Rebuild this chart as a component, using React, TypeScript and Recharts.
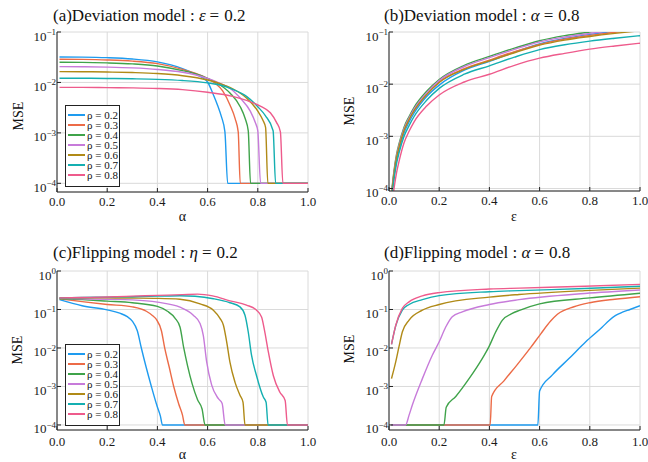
import React from 'react';
import { LineChart, Line, XAxis, YAxis, CartesianGrid, Legend } from 'recharts';

const FONT = "'Liberation Serif', 'Times New Roman', serif";

const RHO_LABELS = ['ρ = 0.2', 'ρ = 0.3', 'ρ = 0.4', 'ρ = 0.5', 'ρ = 0.6', 'ρ = 0.7', 'ρ = 0.8'];
const RHO_COLORS = ['#1e9bef', '#ec6b47', '#3fa34a', '#c77bda', '#b08a17', '#14afb1', '#ee5b8c'];

const X_TICKS = [0, 0.2, 0.4, 0.6, 0.8, 1];
const Y_TICKS_DEV = [1e-4, 1e-3, 1e-2, 1e-1];
const Y_TICKS_FLIP = [1e-4, 1e-3, 1e-2, 1e-1, 1];

// (a) deviation model, eps = 0.2 : [alpha, MSE]
const DEV_A_R2 = [[0.01, 0.032], [0.1, 0.0318], [0.2, 0.031], [0.3, 0.0292], [0.4, 0.0255], [0.5, 0.0188], [0.55, 0.0148], [0.58, 0.0124], [0.6, 0.0102], [0.62, 0.0062], [0.64, 0.0035], [0.655, 0.0021], [0.669, 0.00105], [0.68, 0.0001], [1, 0.0001]];
const DEV_A_R3 = [[0.01, 0.0288], [0.1, 0.0286], [0.2, 0.0279], [0.3, 0.0265], [0.4, 0.0236], [0.5, 0.0182], [0.55, 0.0152], [0.6, 0.0119], [0.63, 0.0097], [0.66, 0.0068], [0.69, 0.0035], [0.71, 0.0019], [0.722, 0.00105], [0.73, 0.0001], [1, 0.0001]];
const DEV_A_R4 = [[0.01, 0.0251], [0.1, 0.025], [0.2, 0.0244], [0.3, 0.0233], [0.4, 0.0212], [0.5, 0.0172], [0.55, 0.0149], [0.6, 0.0121], [0.65, 0.0089], [0.69, 0.0061], [0.73, 0.0033], [0.75, 0.0019], [0.762, 0.0011], [0.771, 0.0001], [1, 0.0001]];
const DEV_A_R5 = [[0.01, 0.0206], [0.1, 0.0205], [0.2, 0.0201], [0.3, 0.0194], [0.4, 0.0181], [0.5, 0.0159], [0.55, 0.0142], [0.6, 0.012], [0.65, 0.0096], [0.69, 0.0076], [0.73, 0.0049], [0.77, 0.0027], [0.79, 0.0016], [0.8, 0.0011], [0.811, 0.0001], [1, 0.0001]];
const DEV_A_R6 = [[0.01, 0.0164], [0.1, 0.0163], [0.2, 0.0161], [0.3, 0.0157], [0.4, 0.015], [0.5, 0.0136], [0.6, 0.0112], [0.65, 0.0095], [0.7, 0.0075], [0.755, 0.0049], [0.8, 0.0027], [0.82, 0.0018], [0.831, 0.00128], [0.84, 0.0001], [1, 0.0001]];
const DEV_A_R7 = [[0.01, 0.0121], [0.1, 0.0121], [0.2, 0.012], [0.3, 0.0118], [0.4, 0.0115], [0.5, 0.0109], [0.6, 0.0098], [0.65, 0.0089], [0.7, 0.0073], [0.755, 0.0053], [0.8, 0.0033], [0.83, 0.0022], [0.861, 0.0011], [0.871, 0.0001], [1, 0.0001]];
const DEV_A_R8 = [[0.01, 0.008], [0.1, 0.008], [0.2, 0.0079], [0.3, 0.0078], [0.4, 0.0076], [0.5, 0.0072], [0.6, 0.0064], [0.7, 0.0053], [0.755, 0.0044], [0.81, 0.0034], [0.85, 0.0025], [0.875, 0.0016], [0.89, 0.00105], [0.9, 0.0001], [1, 0.0001]];

// (b) deviation model, alpha = 0.8 : MSE over eps
const DEV_EPS = [0.012, 0.02, 0.03, 0.04, 0.06, 0.08, 0.1, 0.15, 0.2, 0.3, 0.4, 0.5, 0.6, 0.7, 0.8, 0.9, 1.0];
const DEV_B_R2 = [0.00008, 0.00017, 0.00035, 0.00056, 0.00117, 0.00188, 0.0028, 0.0058, 0.0096, 0.0185, 0.0275, 0.041, 0.059, 0.075, 0.09, 0.104, 0.118];
const DEV_B_R3 = [0.000092, 0.000195, 0.0004, 0.00064, 0.00133, 0.00215, 0.0032, 0.0064, 0.011, 0.0198, 0.029, 0.042, 0.058, 0.073, 0.086, 0.099, 0.112];
const DEV_B_R4 = [0.0001, 0.00022, 0.00045, 0.00072, 0.0015, 0.0024, 0.0036, 0.0073, 0.0123, 0.023, 0.034, 0.049, 0.068, 0.085, 0.1, 0.115, 0.13];
const DEV_B_R5 = [0.000095, 0.000205, 0.00042, 0.00067, 0.0014, 0.00225, 0.00335, 0.0068, 0.0117, 0.0218, 0.0322, 0.0465, 0.0645, 0.08, 0.094, 0.108, 0.121];
const DEV_B_R6 = [0.00009, 0.00019, 0.00039, 0.00062, 0.0013, 0.0021, 0.0031, 0.0063, 0.0108, 0.0192, 0.028, 0.04, 0.056, 0.07, 0.082, 0.094, 0.106];
const DEV_B_R7 = [0.00007, 0.00015, 0.0003, 0.00048, 0.001, 0.0016, 0.0024, 0.0049, 0.0083, 0.0155, 0.0225, 0.033, 0.046, 0.057, 0.067, 0.076, 0.085];
const DEV_B_R8 = [0.00005, 0.0001, 0.0002, 0.00033, 0.00075, 0.00125, 0.0019, 0.0038, 0.0062, 0.011, 0.0155, 0.023, 0.0315, 0.039, 0.047, 0.054, 0.061];

// (c) flipping model, eta = 0.2 : [alpha, MSE]
const FLIP_A_R2 = [[0.01, 0.18], [0.1, 0.125], [0.2, 0.098], [0.25, 0.08], [0.28, 0.065], [0.3, 0.05], [0.32, 0.028], [0.336, 0.01], [0.355, 0.0032], [0.376, 0.001], [0.398, 0.00032], [0.412, 0.00017], [0.42, 0.0001], [1, 0.0001]];
const FLIP_A_R3 = [[0.01, 0.19], [0.1, 0.16], [0.2, 0.135], [0.3, 0.117], [0.356, 0.09], [0.38, 0.07], [0.396, 0.055], [0.416, 0.028], [0.429, 0.01], [0.447, 0.0032], [0.465, 0.001], [0.485, 0.00035], [0.5, 0.00018], [0.509, 0.0001], [1, 0.0001]];
const FLIP_A_R4 = [[0.01, 0.19], [0.1, 0.18], [0.2, 0.165], [0.3, 0.15], [0.4, 0.12], [0.44, 0.09], [0.47, 0.06], [0.49, 0.035], [0.505, 0.01], [0.52, 0.0035], [0.538, 0.0012], [0.56, 0.00045], [0.578, 0.00026], [0.59, 0.0001], [1, 0.0001]];
const FLIP_A_R5 = [[0.01, 0.195], [0.1, 0.19], [0.2, 0.185], [0.3, 0.178], [0.4, 0.155], [0.49, 0.115], [0.543, 0.071], [0.57, 0.043], [0.583, 0.021], [0.596, 0.0045], [0.616, 0.0011], [0.643, 0.00048], [0.658, 0.00036], [0.67, 0.0001], [1, 0.0001]];
const FLIP_A_R6 = [[0.01, 0.2], [0.1, 0.2], [0.2, 0.2], [0.3, 0.198], [0.4, 0.195], [0.49, 0.185], [0.57, 0.14], [0.623, 0.096], [0.65, 0.058], [0.663, 0.039], [0.676, 0.0145], [0.689, 0.0043], [0.709, 0.0013], [0.729, 0.00059], [0.741, 0.00039], [0.749, 0.0001], [1, 0.0001]];
const FLIP_A_R7 = [[0.01, 0.2], [0.1, 0.205], [0.2, 0.21], [0.3, 0.215], [0.4, 0.222], [0.49, 0.228], [0.55, 0.22], [0.623, 0.19], [0.689, 0.15], [0.729, 0.117], [0.749, 0.071], [0.762, 0.026], [0.775, 0.0065], [0.795, 0.0019], [0.822, 0.00053], [0.833, 0.00039], [0.841, 0.0001], [1, 0.0001]];
const FLIP_A_R8 = [[0.01, 0.2], [0.1, 0.205], [0.2, 0.212], [0.3, 0.222], [0.4, 0.232], [0.5, 0.243], [0.56, 0.25], [0.62, 0.225], [0.689, 0.168], [0.755, 0.13], [0.795, 0.096], [0.815, 0.064], [0.828, 0.026], [0.842, 0.0079], [0.862, 0.0019], [0.888, 0.00071], [0.909, 0.00043], [0.918, 0.0001], [1, 0.0001]];

// (d) flipping model, alpha = 0.8 : [eps, MSE]
const FLIP_E_R2 = [[0.01, 0.0001], [0.593, 0.0001], [0.6, 0.00076], [0.651, 0.002], [0.717, 0.0053], [0.784, 0.0145], [0.85, 0.035], [0.877, 0.052], [0.903, 0.07], [0.93, 0.085], [0.96, 0.1], [1, 0.125]];
const FLIP_E_R3 = [[0.01, 0.0001], [0.403, 0.0001], [0.409, 0.00055], [0.458, 0.0014], [0.511, 0.0037], [0.564, 0.0102], [0.604, 0.023], [0.644, 0.05], [0.671, 0.075], [0.737, 0.118], [0.8, 0.15], [0.9, 0.185], [1, 0.215]];
const FLIP_E_R4 = [[0.01, 0.0001], [0.219, 0.0001], [0.228, 0.00029], [0.266, 0.00055], [0.319, 0.0016], [0.372, 0.0054], [0.398, 0.0107], [0.425, 0.026], [0.452, 0.053], [0.491, 0.079], [0.52, 0.095], [0.6, 0.14], [0.8, 0.2], [1, 0.265]];
const FLIP_E_R5 = [[0.01, 0.0001], [0.066, 0.0001], [0.08, 0.00018], [0.093, 0.00033], [0.133, 0.0016], [0.173, 0.0066], [0.2, 0.0145], [0.226, 0.035], [0.252, 0.065], [0.292, 0.087], [0.4, 0.135], [0.518, 0.18], [0.78, 0.26], [1, 0.32]];
const FLIP_E_R6 = [[0.01, 0.0016], [0.027, 0.0044], [0.04, 0.011], [0.053, 0.026], [0.08, 0.053], [0.133, 0.096], [0.2, 0.135], [0.4, 0.21], [0.518, 0.245], [0.78, 0.31], [1, 0.36]];
const FLIP_E_R7 = [[0.01, 0.0125], [0.027, 0.038], [0.053, 0.096], [0.08, 0.135], [0.133, 0.18], [0.2, 0.23], [0.4, 0.29], [0.518, 0.31], [0.78, 0.35], [1, 0.4]];
const FLIP_E_R8 = [[0.01, 0.0124], [0.027, 0.039], [0.053, 0.107], [0.08, 0.158], [0.133, 0.225], [0.2, 0.275], [0.4, 0.34], [0.52, 0.36], [0.78, 0.4], [1, 0.45]];

type Pt = { x: number; y: number };
const fromPairs = (pairs: number[][]): Pt[] => pairs.map(([x, y]) => ({ x, y }));
const zipXY = (xs: number[], ys: number[]): Pt[] => xs.map((x, i) => ({ x, y: ys[i] }));

const seriesA = [DEV_A_R2, DEV_A_R3, DEV_A_R4, DEV_A_R5, DEV_A_R6, DEV_A_R7, DEV_A_R8].map(fromPairs);
const seriesB = [DEV_B_R2, DEV_B_R3, DEV_B_R4, DEV_B_R5, DEV_B_R6, DEV_B_R7, DEV_B_R8].map((ys) => zipXY(DEV_EPS, ys));
const seriesC = [FLIP_A_R2, FLIP_A_R3, FLIP_A_R4, FLIP_A_R5, FLIP_A_R6, FLIP_A_R7, FLIP_A_R8].map(fromPairs);
const seriesD = [FLIP_E_R2, FLIP_E_R3, FLIP_E_R4, FLIP_E_R5, FLIP_E_R6, FLIP_E_R7, FLIP_E_R8].map(fromPairs);

const textStyle = { fontFamily: FONT };

const XTick = (props: any) => {
  const { x, y, payload } = props;
  return (
    <text x={x} y={y + 9.5} textAnchor="middle" fontFamily={FONT} fontSize={13} fill="#1a1a1a" style={textStyle}>
      {Number(payload.value).toFixed(1)}
    </text>
  );
};

const YTick = (props: any) => {
  const { x, y, payload } = props;
  const exp = Math.round(Math.log10(payload.value));
  return (
    <text x={x} y={y + 8.5} textAnchor="end" fontFamily={FONT} fontSize={13} fill="#1a1a1a" style={textStyle}>
      <tspan>10</tspan>
      <tspan dy={-5.8} fontSize={9}>{exp === 0 ? '0' : '\u2212' + Math.abs(exp)}</tspan>
    </text>
  );
};

const LegendBox = (props: any) => {
  const items = props.payload || [];
  return (
    <div style={{ border: '1px solid #222', background: '#fff', padding: '4px 0 6px 2px', width: 51, fontFamily: FONT, fontSize: 11, color: '#111' }}>
      {items.map((item: any) => (
        <div key={item.value} style={{ display: 'flex', alignItems: 'center', height: 10, lineHeight: '10px', whiteSpace: 'nowrap', fontFamily: FONT }}>
          <span style={{ width: 17, height: 2.5, background: item.color, marginRight: 2, flex: 'none' }} />
          <span style={{ fontFamily: FONT }}>{item.value}</span>
        </div>
      ))}
    </div>
  );
};

interface PanelProps {
  left: number;
  top: number;
  yWidth: number;
  marginTop: number;
  marginRight: number;
  xHeight: number;
  xTickMargin: number;
  yDomain: [number, number];
  yTicks: number[];
  series: Pt[][];
  legendAt?: { left: number; top: number };
}

const Panel = ({ left, top, yWidth, marginTop, marginRight, xHeight, xTickMargin, yDomain, yTicks, series, legendAt }: PanelProps) => (
  <div style={{ position: 'absolute', left, top, fontFamily: FONT }}>
    <LineChart width={324} height={231} margin={{ top: marginTop, right: marginRight, bottom: 0, left: 0 }} style={textStyle}>
      <CartesianGrid stroke="#dadada" />
      <XAxis
        dataKey="x"
        type="number"
        domain={[0, 1]}
        ticks={X_TICKS}
        interval={0}
        allowDataOverflow
        height={xHeight}
        tickSize={-4}
        tickMargin={xTickMargin}
        stroke="#222"
        tick={(p: any) => <XTick {...p} />}
      />
      <XAxis xAxisId="top" orientation="top" type="number" domain={[0, 1]} ticks={X_TICKS} interval={0} height={0} tick={false} tickSize={-4} stroke="#222" />
      <YAxis
        type="number"
        scale="log"
        domain={yDomain}
        ticks={yTicks}
        interval={0}
        allowDataOverflow
        width={yWidth}
        tickSize={-4}
        tickMargin={5}
        tick={(p: any) => <YTick {...p} />}
        stroke="#222"
      />
      <YAxis yAxisId="right" orientation="right" type="number" scale="log" domain={yDomain} ticks={yTicks} interval={0} allowDataOverflow width={0} tick={false} tickSize={-4} stroke="#222" />
      {series.map((data, i) => (
        <Line
          key={RHO_LABELS[i]}
          data={data}
          dataKey="y"
          name={RHO_LABELS[i]}
          type="monotone"
          stroke={RHO_COLORS[i]}
          strokeWidth={1.4}
          dot={false}
          activeDot={false}
          isAnimationActive={false}
        />
      ))}
      {legendAt && (
        <Legend
          layout="vertical"
          align="center"
          verticalAlign="middle"
          content={LegendBox}
          wrapperStyle={{ left: legendAt.left, top: legendAt.top }}
        />
      )}
    </LineChart>
  </div>
);

const Title = ({ x, y, head, sym, tail }: { x: number; y: number; head: string; sym: string; tail: string }) => (
  <text x={x} y={y} fontFamily={FONT} fontSize={17} fill="#111" style={{ whiteSpace: 'pre', fontFamily: FONT }}>
    <tspan>{head}</tspan>
    <tspan fontStyle="italic">{sym}</tspan>
    <tspan dx={4}>{'='}</tspan>
    <tspan dx={5}>{tail}</tspan>
  </text>
);

const YLabel = ({ x, y }: { x: number; y: number }) => (
  <text transform={`translate(${x},${y}) rotate(-90)`} textAnchor="middle" fontFamily={FONT} fontSize={14} fill="#111" style={textStyle}>
    MSE
  </text>
);

const XLabel = ({ x, y, text }: { x: number; y: number; text: string }) => (
  <text x={x} y={y} textAnchor="middle" fontFamily={FONT} fontSize={14} fill="#111" style={textStyle}>
    {text}
  </text>
);

export default function App() {
  return (
    <div style={{ position: 'absolute', left: 0, top: 0, width: 648, height: 462, background: '#fff', overflow: 'hidden' }}>
      <Panel left={0} top={0} yWidth={57} marginTop={32} marginRight={16} xHeight={39} xTickMargin={8}
        yDomain={[6.73e-5, 0.1]} yTicks={Y_TICKS_DEV} series={seriesA} legendAt={{ left: 65, top: 105 }} />
      <Panel left={324} top={0} yWidth={65} marginTop={32} marginRight={8} xHeight={40} xTickMargin={8}
        yDomain={[8.95e-5, 0.1]} yTicks={Y_TICKS_DEV} series={seriesB} />
      <Panel left={0} top={231} yWidth={57} marginTop={40} marginRight={16} xHeight={32} xTickMargin={10}
        yDomain={[7.4e-5, 1]} yTicks={Y_TICKS_FLIP} series={seriesC} legendAt={{ left: 65, top: 113 }} />
      <Panel left={324} top={231} yWidth={65} marginTop={40} marginRight={8} xHeight={32} xTickMargin={10}
        yDomain={[7.4e-5, 1]} yTicks={Y_TICKS_FLIP} series={seriesD} />
      <svg width={648} height={462} style={{ position: 'absolute', left: 0, top: 0, pointerEvents: 'none' }}>
        <Title x={53} y={21} head="(a)Deviation model : " sym="ε" tail="0.2" />
        <Title x={384} y={21} head="(b)Deviation model : " sym="α" tail="0.8" />
        <Title x={53} y={257.5} head="(c)Flipping model : " sym="η" tail="0.2" />
        <Title x={384} y={257.5} head="(d)Flipping model : " sym="α" tail="0.8" />
        <YLabel x={22.5} y={116} />
        <YLabel x={354} y={111} />
        <YLabel x={21.5} y={350} />
        <YLabel x={354} y={349} />
        <XLabel x={182.5} y={220.5} text="α" />
        <XLabel x={514} y={221} text="ε" />
        <XLabel x={182.5} y={458.5} text="α" />
        <XLabel x={514} y={458.5} text="ε" />
      </svg>
    </div>
  );
}
